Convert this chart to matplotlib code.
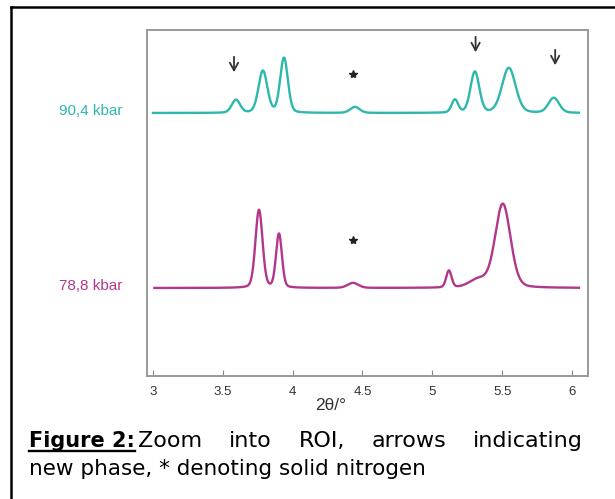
import matplotlib.pyplot as plt
import numpy as np

# peak tables: position (2theta), height, FWHM
teal_pos = [3.594, 3.787, 3.938, 4.446, 5.162, 5.305, 5.548, 5.870]
teal_h = [13, 42, 55, 6, 13, 41, 45, 15]
teal_w = [0.070, 0.075, 0.065, 0.080, 0.055, 0.075, 0.115, 0.090]

mag_pos = [3.759, 3.902, 4.432, 5.119, 5.33, 5.505]
mag_h = [78, 54, 5, 17, 8, 84]
mag_w = [0.060, 0.050, 0.090, 0.045, 0.150, 0.130]

arrow_pos = [3.58, 5.31, 5.88]
arrow_top = [322, 342, 329]
arrow_tip = [301, 321, 308]
star_pos = [4.43, 4.43]
star_y = [302, 136]

labels = ["90,4 kbar", "78,8 kbar"]
offsets = [263, 88]
teal = "#2db8ad"
magenta = "#b2378a"
xticks = [3, 3.5, 4, 4.5, 5, 5.5, 6]
xticklabels = ["3", "3.5", "4", "4.5", "5", "5.5", "6"]
caption_bold = "Figure 2:"
caption_line1 = ["Zoom", "into", "ROI,", "arrows", "indicating"]
caption_line2 = "new phase, * denoting solid nitrogen"


def pattern(x, pos, h, w):
    y = np.zeros_like(x)
    for p, a, fw in zip(pos, h, w):
        g = np.exp(-4 * np.log(2) * ((x - p) / fw) ** 2)
        l = 1 / (1 + 4 * ((x - p) / fw) ** 2)
        y += a * (0.8 * g + 0.2 * l)
    return y


fig = plt.figure(figsize=(6.15, 4.99), dpi=100)
ax = fig.add_axes([147 / 615, 1 - 376 / 499, 441 / 615, 346 / 499])

x1 = np.linspace(3.0, 6.05, 800)
x2 = np.linspace(3.01, 6.05, 800)
ax.plot(x1, offsets[0] + pattern(x1, teal_pos, teal_h, teal_w), color=teal, lw=1.7)
ax.plot(x2, offsets[1] + pattern(x2, mag_pos, mag_h, mag_w), color=magenta, lw=1.7)

for xp, top, tip in zip(arrow_pos, arrow_top, arrow_tip):
    ax.annotate("", xy=(xp, tip), xytext=(xp, top),
                arrowprops=dict(arrowstyle="->,head_width=0.3,head_length=0.55",
                                color="#333333", lw=1.3))
ax.plot(star_pos, star_y, ls="none", marker="*", markersize=6, color="#222222")

ax.set_xlim(2.957, 6.115)
ax.set_ylim(0, 346)
ax.set_yticks([])
ax.set_xticks(xticks)
ax.set_xticklabels(xticklabels, fontfamily="Liberation Sans", fontsize=9.5, color="#333333")
ax.tick_params(axis="x", direction="in", length=4, color="#888888", pad=7)
for s in ax.spines.values():
    s.set_color("#999999")
    s.set_linewidth(1.4)
fig.text((153 + (4.27 - 3) * 139.7) / 615, 1 - 405 / 499, "2\u03b8/\u00b0",
         ha="center", va="center", fontfamily="Liberation Sans", fontsize=12.5, color="#333333")

fig.text(91 / 615, 1 - 111 / 499, labels[0], color=teal, ha="center", va="center",
         fontfamily="Liberation Sans", fontsize=11)
fig.text(91 / 615, 1 - 286 / 499, labels[1], color=magenta, ha="center", va="center",
         fontfamily="Liberation Sans", fontsize=11)

# frame around the figure (left and top edges visible)
fig.add_artist(plt.Line2D([11 / 615, 11 / 615], [0, 1 - 7 / 499], color="black", lw=1.8))
fig.add_artist(plt.Line2D([11 / 615, 1], [1 - 7 / 499, 1 - 7 / 499], color="black", lw=1.8))

# caption, first line justified
cap_y1 = 1 - 447 / 499
cap_y2 = 1 - 475 / 499
bold = fig.text(29 / 615, cap_y1, caption_bold, fontsize=15, fontweight="bold", va="baseline")
fig.canvas.draw()
inv = fig.transFigure.inverted()
bb = bold.get_window_extent().transformed(inv)
fig.add_artist(plt.Line2D([bb.x0, bb.x1], [cap_y1 - 4 / 499, cap_y1 - 4 / 499], color="black", lw=1.7))

words = [fig.text(0, cap_y1, w, fontsize=16, va="baseline") for w in caption_line1]
fig.canvas.draw()
widths = [w.get_window_extent().transformed(inv).width for w in words]
start, end = 138 / 615, 583 / 615
gap = (end - start - sum(widths)) / (len(words) - 1)
xpos = start
for w, wd in zip(words, widths):
    w.set_x(xpos)
    xpos += wd + gap
fig.text(29 / 615, cap_y2, caption_line2, fontsize=15.5, va="baseline")

fig.savefig("out.png", dpi=100)
